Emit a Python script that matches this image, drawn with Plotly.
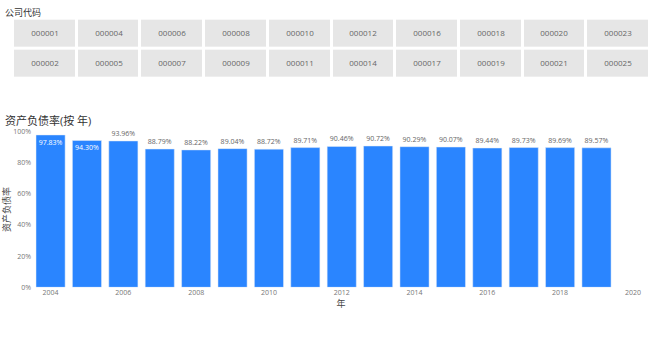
import plotly.graph_objects as go

# Slicer codes (two rows)
codes_row1 = ["000001", "000004", "000006", "000008", "000010", "000012", "000016", "000018", "000020", "000023"]
codes_row2 = ["000002", "000005", "000007", "000009", "000011", "000014", "000017", "000019", "000021", "000025"]

# Bar data
years = list(range(2004, 2020))
ratios = [97.83, 94.30, 93.96, 88.79, 88.22, 89.04, 88.72, 89.71,
          90.46, 90.72, 90.29, 90.07, 89.44, 89.73, 89.69, 89.57]
labels = [f"{v:.2f}%" for v in ratios]

W, H = 650, 340
FONT = "Open Sans, Noto Sans CJK SC, sans-serif"

def py(px):
    return 1 - px / H

fig = go.Figure()

# Slicer tiles as heatmap
fig.add_trace(go.Heatmap(
    z=[[1] * 10, [1] * 10],
    x=list(range(10)),
    y=[0, 1],
    text=[codes_row1, codes_row2],
    texttemplate="%{text}",
    textfont=dict(size=8, color="#666666", family=FONT),
    colorscale=[[0, "#e6e6e6"], [1, "#e6e6e6"]],
    showscale=False,
    xgap=3, ygap=3,
    hoverinfo="skip",
    xaxis="x2", yaxis="y2",
))

positions = ["inside", "inside"] + ["outside"] * (len(ratios) - 2)
fig.add_trace(go.Bar(
    x=years, y=ratios,
    text=labels,
    textposition=positions,
    insidetextanchor="end",
    textangle=0,
    cliponaxis=False,
    insidetextfont=dict(size=7, color="white", family=FONT),
    outsidetextfont=dict(size=7, color="#666666", family=FONT),
    marker=dict(color="#2a85ff"),
    hoverinfo="skip",
))

fig.update_layout(
    width=W, height=H,
    margin=dict(l=0, r=0, t=0, b=0),
    paper_bgcolor="white", plot_bgcolor="white",
    font=dict(family=FONT, color="#666666"),
    showlegend=False,
    bargap=0.2,
    uniformtext=dict(minsize=7, mode="show"),
    xaxis=dict(
        domain=[32 / W, 1],
        range=[2003.49, 2020.47],
        tickmode="linear", tick0=2004, dtick=2,
        showgrid=False, zeroline=False, showline=False,
        tickfont=dict(size=7, color="#777777"),
        ticks="", ticklen=2,
        title=dict(text="年", font=dict(size=9, color="#444444"), standoff=2),
    ),
    yaxis=dict(
        domain=[py(290), py(130)],
        range=[0, 100],
        tickvals=[0, 20, 40, 60, 80, 100],
        ticktext=["0%", "20%", "40%", "60%", "80%", "100%"],
        showgrid=False, zeroline=False, showline=False,
        tickfont=dict(size=7, color="#777777"),
        ticks="", ticklen=3,
        title=dict(text="资产负债率", font=dict(size=9, color="#444444"), standoff=2),
    ),
    xaxis2=dict(
        domain=[13 / W, 1 + 1.5 / W if False else 1],
        range=[-0.5, 9.5],
        visible=False, fixedrange=True,
    ),
    yaxis2=dict(
        domain=[py(76), py(14)],
        range=[1.5, -0.5],
        visible=False, fixedrange=True,
    ),
    annotations=[
        dict(text="公司代码", x=3 / W, y=py(8), xref="paper", yref="paper",
             xanchor="left", yanchor="middle", showarrow=False,
             font=dict(size=9, color="#333333", family=FONT)),
        dict(text="资产负债率(按 年)", x=3 / W, y=py(119), xref="paper", yref="paper",
             xanchor="left", yanchor="middle", showarrow=False,
             font=dict(size=11, color="#333333", family=FONT)),
    ],
)

fig.write_html("out.html")
